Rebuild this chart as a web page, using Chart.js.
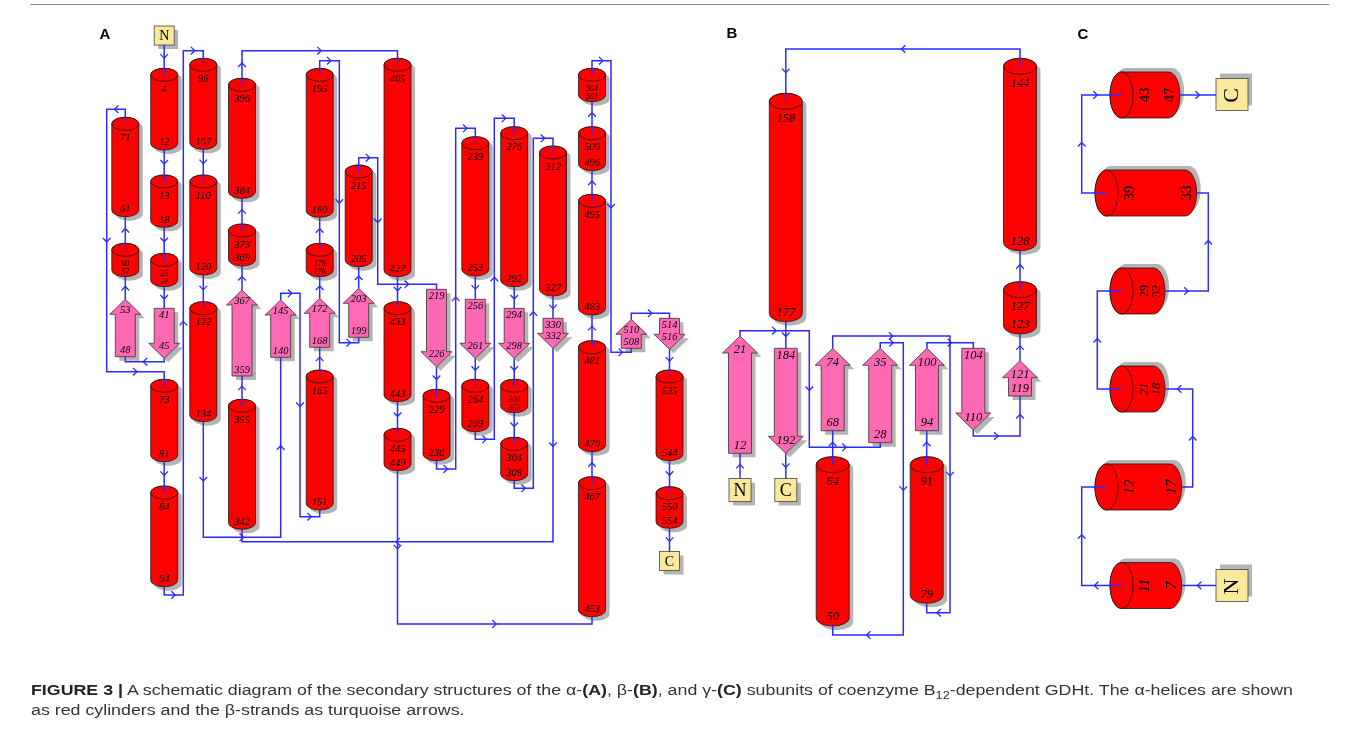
<!DOCTYPE html>
<html><head><meta charset="utf-8">
<script src="https://cdn.jsdelivr.net/npm/chart.js@4.4.0/dist/chart.umd.min.js"></script>
<style>
html,body{margin:0;padding:0;background:#fff;width:1359px;height:736px;overflow:hidden;}
#wrap{position:relative;width:1359px;height:736px;}
canvas{position:absolute;left:0;top:0;}
.cap{position:absolute;left:31px;font-family:'Liberation Sans',Arial,sans-serif;font-size:14px;line-height:16px;color:#333;white-space:nowrap;transform-origin:0 50%;}
.cap b{color:#222;}
</style></head><body>
<div id="wrap"><canvas id="c" width="1359" height="736"></canvas>
<div class="cap" id="cap1" style="top:682px"><b>FIGURE 3 |</b> A schematic diagram of the secondary structures of the α-<b>(A)</b>, β-<b>(B)</b>, and γ-<b>(C)</b> subunits of coenzyme B<sub style="font-size:10px;line-height:0">12</sub>-dependent GDHt. The α-helices are shown</div>
<div class="cap" id="cap2" style="top:702px">as red cylinders and the β-strands as turquoise arrows.</div>
</div>
<script>
// ---------------- DATA (diagram units) ----------------
// Panel A helices: [top label, bottom label, x, y top, y bottom]
const helicesA = [
 ['4','12',164.2,68.3,150], ['98','107',203.3,58.3,149.3], ['396','384',242,78.3,198.3],
 ['71','61',125.3,117.3,216.7], ['13','18',164.2,175,227.3], ['110','120',203.3,175,275],
 ['60','57',125.3,243.3,276.7], ['25','28',164.2,253.3,286.7], ['373','369',242,224,266],
 ['122','134',203.3,301.7,421.7], ['73','81',164.2,379.3,461.7], ['84','94',164.2,486,586.7],
 ['355','342',242,399.3,529.3], ['195','180',319.7,68.3,217.3], ['179','176',319.7,243.3,276.7],
 ['215','205',358.7,165,266.7], ['405','427',397.5,58.3,276.7], ['433','443',397.5,301.7,401.7],
 ['165','151',319.7,370,510], ['445','449',397.5,428.3,470.7], ['229','236',436.5,389.3,460.7],
 ['239','253',475.3,136.7,276], ['276','292',514.2,126.7,286.7], ['312','327',553,146,296],
 ['504','501',592,68.3,101.7], ['500','496',592,126.7,170.7], ['495','483',592,194.3,315],
 ['264','269',475.3,379.3,431.7], ['300','303',514.2,379.3,412.7], ['304','308',514.2,437.3,480.7],
 ['481','470',592,340.7,451.7], ['467','453',592,476.7,616.7], ['535','544',669.5,370,460.7],
 ['550','554',669.5,486.7,528.3]
];
// Panel A strands: [top label, bottom label, x, y start, y end, direction]
const strandsA = [
 ['53','48',125.3,299.3,356.7,'up'], ['41','45',164.2,308.3,358.3,'down'],
 ['367','359',242,290,376,'up'], ['145','140',280.7,300,357.3,'up'],
 ['172','168',319.7,298.3,347.3,'up'], ['203','199',358.7,288.3,337.3,'up'],
 ['219','226',436.5,289.3,366.7,'down'], ['256','261',475.3,299.3,358.3,'down'],
 ['294','298',514.2,308.3,358.3,'down'], ['330','332',553,318.3,348.3,'down'],
 ['510','508',631.3,319.3,348.3,'up'], ['514','516',669.5,318.3,349.3,'down']
];
const linksA = [
 [[164.2,45],[164.2,68.3]], [[164.2,150],[164.2,175]], [[164.2,227.3],[164.2,253.3]],
 [[164.2,286.7],[164.2,308.3]], [[164.2,358.3],[164.2,361.7],[125.3,361.7],[125.3,356.7]],
 [[125.3,299.3],[125.3,276.7]], [[125.3,243.3],[125.3,216.7]],
 [[125.3,117.3],[125.3,109.3],[106.7,109.3],[106.7,371.7],[164.2,371.7],[164.2,379.3]],
 [[164.2,461.7],[164.2,486]],
 [[164.2,586.7],[164.2,595],[183.3,595],[183.3,50.7],[203.3,50.7],[203.3,58.3]],
 [[203.3,149.3],[203.3,175]], [[203.3,275],[203.3,301.7]],
 [[203.3,421.7],[203.3,537.3],[280.7,537.3],[280.7,357.3]],
 [[280.7,300],[280.7,293.3],[300,293.3],[300,516.7],[319.7,516.7],[319.7,510]],
 [[319.7,370],[319.7,347.3]], [[319.7,298.3],[319.7,276.7]], [[319.7,243.3],[319.7,217.3]],
 [[319.7,68.3],[319.7,60.7],[339.3,60.7],[339.3,342.7],[358.7,342.7],[358.7,337.3]],
 [[358.7,288.3],[358.7,266.7]],
 [[358.7,165],[358.7,157.7],[377.7,157.7],[377.7,284.3],[436.5,284.3],[436.5,289.3]],
 [[436.5,366.7],[436.5,389.3]],
 [[436.5,460.7],[436.5,469],[455.7,469],[455.7,128.3],[475.3,128.3],[475.3,136.7]],
 [[475.3,276],[475.3,299.3]], [[475.3,358.3],[475.3,379.3]],
 [[475.3,431.7],[475.3,439.3],[494.3,439.3],[494.3,118.3],[514.2,118.3],[514.2,126.7]],
 [[514.2,286.7],[514.2,308.3]], [[514.2,358.3],[514.2,379.3]], [[514.2,412.7],[514.2,437.3]],
 [[514.2,480.7],[514.2,488.3],[533.3,488.3],[533.3,138.3],[553,138.3],[553,146]],
 [[553,296],[553,318.3]], [[553,348.3],[553,541.7],[242,541.7],[242,529.3]],
 [[242,399.3],[242,376]], [[242,290],[242,266]], [[242,224],[242,198.3]],
 [[242,78.3],[242,50.7],[397.5,50.7],[397.5,58.3]],
 [[397.5,276.7],[397.5,301.7]], [[397.5,401.7],[397.5,428.3]],
 [[397.5,470.7],[397.5,624],[592,624],[592,616.7]],
 [[592,476.7],[592,451.7]], [[592,340.7],[592,315]], [[592,194.3],[592,170.7]], [[592,126.7],[592,101.7]],
 [[592,68.3],[592,60.7],[611,60.7],[611,352.3],[631.3,352.3],[631.3,348.3]],
 [[631.3,319.3],[631.3,313.3],[669.5,313.3],[669.5,318.3]],
 [[669.5,349.3],[669.5,370]], [[669.5,460.7],[669.5,486.7]], [[669.5,528.3],[669.5,551.5]]
];
// Panel B
const helicesB = [
 ['158','177',785.8,93.3,321.7], ['144','128',1020,58.3,250.7], ['127','123',1020,281.7,334],
 ['64','50',832.7,456.7,626], ['91','79',926.7,456.7,603.3]
];
const strandsB = [
 ['21','12',740,336,453.3,'up'], ['184','192',785.8,348.3,453.3,'down'],
 ['74','68',832.7,348.3,430.7,'up'], ['35','28',880.2,348.3,442.7,'up'],
 ['100','94',927,348.3,430.7,'up'], ['104','110',973.3,348.3,430,'down'],
 ['121','119',1020,360.7,396,'up']
];
const linksB = [
 [[740,478.5],[740,453.3]],
 [[740,336],[740,330.7],[809.3,330.7],[809.3,447.3],[880.2,447.3],[880.2,442.7]],
 [[880.2,348.3],[880.2,342.7],[903.3,342.7],[903.3,635],[832.7,635],[832.7,626]],
 [[832.7,456.7],[832.7,430.7]],
 [[832.7,348.3],[832.7,336],[950,336],[950,612.7],[926.7,612.7],[926.7,603.3]],
 [[926.7,456.7],[926.7,430.7]],
 [[927,348.3],[927,342.7],[973.3,342.7],[973.3,348.3]],
 [[973.3,430],[973.3,436],[1020,436],[1020,396]],
 [[1020,360.7],[1020,334]], [[1020,281.7],[1020,250.7]],
 [[1020,58.3],[1020,49],[785.8,49],[785.8,93.3]],
 [[785.8,321.7],[785.8,348.3]], [[785.8,453.3],[785.8,478.5]]
];
// Panel C (horizontal helices): [left label, right label, x left, x right, y]
const helicesC = [
 ['43','47',1110,1180,95], ['39','33',1095,1196.7,193], ['29','32',1110,1165,291],
 ['21','18',1110,1165,389], ['12','17',1095,1181.7,487], ['11','7',1110,1181.7,585.5]
];
const linksC = [
 [[1216,585.5],[1181.7,585.5]],
 [[1110,585.5],[1081.7,585.5],[1081.7,487],[1095,487]],
 [[1181.7,487],[1192.7,487],[1192.7,389],[1165,389]],
 [[1110,389],[1097.3,389],[1097.3,291],[1110,291]],
 [[1165,291],[1208.3,291],[1208.3,193],[1196.7,193]],
 [[1095,193],[1081.7,193],[1081.7,95],[1110,95]],
 [[1180,95],[1216,95]]
];
// Termini: [letter, x, y, panel]
const termini = [['N',164.2,35.5,'A'],['C',669.5,561,'A'],['N',740,490,'B'],['C',785.8,490,'B'],['C',1232,94.5,'C'],['N',1232,585.5,'C']];
const panelLetters = [['A',105,35],['B',732,34],['C',1083,35]];

// ---------------- STYLE ----------------
const COL = {red:'#ff0000', pink:'#ff69b4', shadow:'#b4b4b4', line:'#2b2bff', edge:'#1a1a1a', box:'#fbe99b', text:'#000'};
const GEO = {
 A:{w:27, ry:6.5, bw:20, hw:31, hh:15, font:10.5, small:8, topOff:8, tipOff:11, botOff:6, box:[20,19], boxFont:14},
 B:{w:33, ry:8, bw:23, hw:35, hh:17, font:12.5, small:9, topOff:9, tipOff:14, botOff:7.5, box:[22,23], boxFont:18},
 C:{h:46, rx:11.5, font:15, small:12.5, box:[32,32], boxFont:22}
};
const cItalic = [false,false,false,true,true,true];
const SERIF = '"Liberation Serif","Times New Roman",serif';

// ---------------- DRAWING ----------------
function vHelixPath(ctx,cx,yT,yB,w,ry){
  const c1=yT+ry,c2=yB-ry,h=w/2;
  ctx.beginPath(); ctx.moveTo(cx-h,c1); ctx.lineTo(cx-h,c2);
  ctx.ellipse(cx,c2,h,ry,0,Math.PI,0,true); ctx.lineTo(cx+h,c1);
  ctx.ellipse(cx,c1,h,ry,0,0,Math.PI,true); ctx.closePath();
}
function hHelixPath(ctx,xL,xR,yc,hh,rx){
  const c1=xL+rx,c2=xR-rx;
  ctx.beginPath(); ctx.moveTo(c1,yc-hh); ctx.lineTo(c2,yc-hh);
  ctx.ellipse(c2,yc,rx,hh,0,-Math.PI/2,Math.PI/2,false); ctx.lineTo(c1,yc+hh);
  ctx.ellipse(c1,yc,rx,hh,0,Math.PI/2,3*Math.PI/2,false); ctx.closePath();
}
function strandPath(ctx,cx,y1,y2,bw,hw,hh,up){
  ctx.beginPath();
  if(up){const s=y1+hh; ctx.moveTo(cx,y1); ctx.lineTo(cx+hw/2,s); ctx.lineTo(cx+bw/2,s); ctx.lineTo(cx+bw/2,y2); ctx.lineTo(cx-bw/2,y2); ctx.lineTo(cx-bw/2,s); ctx.lineTo(cx-hw/2,s);}
  else{const s=y2-hh; ctx.moveTo(cx-bw/2,y1); ctx.lineTo(cx+bw/2,y1); ctx.lineTo(cx+bw/2,s); ctx.lineTo(cx+hw/2,s); ctx.lineTo(cx,y2); ctx.lineTo(cx-hw/2,s); ctx.lineTo(cx-bw/2,s);}
  ctx.closePath();
}
function label(ctx,t,x,y,size,italic,rot){
  ctx.save(); ctx.fillStyle=COL.text; ctx.font=(italic?'italic ':'')+size+'px '+SERIF;
  ctx.textAlign='center'; ctx.textBaseline='middle';
  ctx.translate(x,y); if(rot) ctx.rotate(-Math.PI/2); ctx.fillText(t,0,0); ctx.restore();
}

const topoPlugin = {
  id:'topo',
  beforeDatasetsDraw(chart){
    const ctx=chart.ctx, X=v=>chart.scales.x.getPixelForValue(v), Y=v=>chart.scales.y.getPixelForValue(v);
    const S=Math.abs(X(1)-X(0));
    ctx.save();
    ctx.strokeStyle='#8a8a8a'; ctx.lineWidth=1; ctx.beginPath(); ctx.moveTo(X(30),Y(4.5)); ctx.lineTo(X(1329),Y(4.5)); ctx.stroke();
    ctx.fillStyle='#000'; ctx.font='bold 15px "Liberation Sans",Arial,sans-serif'; ctx.textAlign='center'; ctx.textBaseline='middle';
    panelLetters.forEach(([t,x,y])=>ctx.fillText(t,X(x),Y(y)));
    [['A',helicesA],['B',helicesB]].forEach(([p,list])=>{
      const g=GEO[p], w=g.w*S, ry=g.ry*S;
      list.forEach(([l1,l2,x,yT,yB])=>{
        const cx=X(x),t=Y(yT),b=Y(yB);
        ctx.fillStyle=COL.shadow; ctx.save(); ctx.translate(4,4); vHelixPath(ctx,cx,t,b,w,ry); ctx.fill(); ctx.restore();
        ctx.fillStyle=COL.red; ctx.strokeStyle=COL.edge; ctx.lineWidth=0.8;
        vHelixPath(ctx,cx,t,b,w,ry); ctx.fill(); ctx.stroke();
        ctx.beginPath(); ctx.ellipse(cx,t+ry,w/2,ry,0,0,2*Math.PI); ctx.fill(); ctx.stroke();
        const small=(yB-yT)<38;
        if(small){label(ctx,l1,cx,t+2*ry+7.5*S,g.small,true); label(ctx,l2,cx,b-4.5*S,g.small,true);}
        else{label(ctx,l1,cx,t+2*ry+g.topOff*S,g.font,true); label(ctx,l2,cx,b-ry-1*S,g.font,true);}
      });
    });
    [['A',strandsA],['B',strandsB]].forEach(([p,list])=>{
      const g=GEO[p];
      list.forEach(([l1,l2,x,y1,y2,dir])=>{
        const cx=X(x),a=Y(y1),b=Y(y2),up=dir==='up';
        ctx.fillStyle=COL.shadow; ctx.save(); ctx.translate(4,4); strandPath(ctx,cx,a,b,g.bw*S,g.hw*S,g.hh*S,up); ctx.fill(); ctx.restore();
        ctx.fillStyle=COL.pink; ctx.strokeStyle='#333'; ctx.lineWidth=0.8;
        strandPath(ctx,cx,a,b,g.bw*S,g.hw*S,g.hh*S,up); ctx.fill(); ctx.stroke();
        if(up){label(ctx,l1,cx,a+g.tipOff*S,g.font,true); label(ctx,l2,cx,b-g.botOff*S,g.font,true);}
        else{label(ctx,l1,cx,a+7.2*S,g.font,true); label(ctx,l2,cx,b-12.3*S,g.font,true);}
      });
    });
    const gc=GEO.C;
    helicesC.forEach(([l1,l2,xL,xR,y],i)=>{
      const a=X(xL),b=X(xR),yc=Y(y),hh=gc.h/2*S,rx=gc.rx*S;
      ctx.fillStyle=COL.shadow; ctx.save(); ctx.translate(4,-4); hHelixPath(ctx,a,b,yc,hh,rx); ctx.fill(); ctx.restore();
      ctx.fillStyle=COL.red; ctx.strokeStyle=COL.edge; ctx.lineWidth=0.8;
      hHelixPath(ctx,a,b,yc,hh,rx); ctx.fill(); ctx.stroke();
      ctx.beginPath(); ctx.ellipse(a+rx,yc,rx,hh,0,0,2*Math.PI); ctx.fill(); ctx.stroke();
      const small=(xR-xL)<60, fs=small?gc.small:gc.font;
      label(ctx,l1,a+(2*gc.rx+12)*S,yc,fs,cItalic[i],true);
      label(ctx,l2,b-(small?8:10)*S,yc,fs,cItalic[i],true);
    });
    termini.forEach(([t,x,y,p])=>{
      const g=GEO[p],bw=g.box[0]*S,bh=g.box[1]*S,cx=X(x),cy=Y(y);
      const dy=p==='C'?-5:4;
      ctx.fillStyle=COL.shadow; ctx.fillRect(cx-bw/2+4,cy-bh/2+dy,bw,bh);
      ctx.fillStyle=COL.box; ctx.strokeStyle='#444'; ctx.lineWidth=0.8;
      ctx.fillRect(cx-bw/2,cy-bh/2,bw,bh); ctx.strokeRect(cx-bw/2,cy-bh/2,bw,bh);
      label(ctx,t,cx,cy+1,g.boxFont,false,p==='C');
    });
    ctx.restore();
  },
  afterDatasetsDraw(chart){
    const ctx=chart.ctx, X=v=>chart.scales.x.getPixelForValue(v), Y=v=>chart.scales.y.getPixelForValue(v);
    const S=Math.abs(X(1)-X(0));
    ctx.save(); ctx.strokeStyle=COL.line; ctx.lineWidth=1.5;
    [['A',helicesA],['B',helicesB]].forEach(([p,list])=>list.forEach(([l1,l2,x,yT])=>{
      ctx.beginPath(); ctx.moveTo(X(x),Y(yT)); ctx.lineTo(X(x),Y(yT+GEO[p].ry)); ctx.stroke();
    }));
    helicesC.forEach(([l1,l2,xL,xR,y])=>{ctx.beginPath(); ctx.moveTo(X(xL),Y(y)); ctx.lineTo(X(xL+GEO.C.rx),Y(y)); ctx.stroke();});
    ctx.lineWidth=1.3;
    [...linksA,...linksB,...linksC].forEach(pts=>{
      for(let i=0;i<pts.length-1;i++){
        const x1=X(pts[i][0]),y1=Y(pts[i][1]),x2=X(pts[i+1][0]),y2=Y(pts[i+1][1]);
        const L=Math.hypot(x2-x1,y2-y1); if(L<18*S) continue;
        const dx=(x2-x1)/L,dy=(y2-y1)/L,mx=(x1+x2)/2,my=(y1+y2)/2,nx=-dy,ny=dx;
        ctx.beginPath();
        ctx.moveTo(mx-dx*2.5+nx*3.8,my-dy*2.5+ny*3.8); ctx.lineTo(mx+dx*1.5,my+dy*1.5); ctx.lineTo(mx-dx*2.5-nx*3.8,my-dy*2.5-ny*3.8);
        ctx.stroke();
      }
    });
    ctx.restore();
  }
};

const datasets=[...linksA,...linksB,...linksC].map(pts=>({
  data:pts.map(([x,y])=>({x,y})), showLine:true, borderColor:COL.line, borderWidth:1.5,
  pointRadius:0, pointHoverRadius:0, fill:false, tension:0, clip:false
}));

new Chart(document.getElementById('c'),{
  type:'scatter',
  data:{datasets},
  options:{
    responsive:false, animation:false, events:[],
    layout:{padding:0},
    plugins:{legend:{display:false},tooltip:{enabled:false}},
    scales:{
      x:{type:'linear',min:0,max:1359,display:false},
      y:{type:'linear',min:0,max:736,reverse:true,display:false}
    }
  },
  plugins:[topoPlugin]
});

(function(){
  const c1=document.getElementById('cap1'), c2=document.getElementById('cap2');
  const k=1262/c1.offsetWidth;
  c1.style.transform='scaleX('+k+')'; c2.style.transform='scaleX('+k+')';
})();
</script>
</body></html>
